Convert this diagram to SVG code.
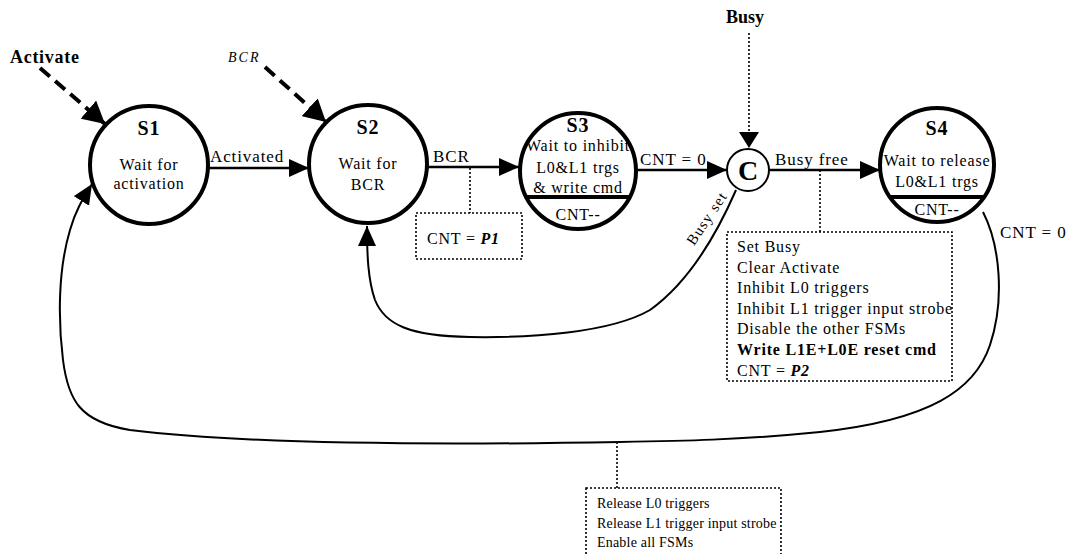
<svg xmlns="http://www.w3.org/2000/svg" width="1068" height="554" viewBox="0 0 1068 554">
<style>
text{font-family:"Liberation Serif","Times New Roman",serif;fill:#000}
.st{stroke:#000;stroke-width:4;fill:#fff}
.t{font-size:16px;letter-spacing:0.8px;text-anchor:middle}
.n{font-size:20px;font-weight:bold;text-anchor:middle;letter-spacing:1px}
.lb{font-size:17px;letter-spacing:0.9px}
.e{fill:none;stroke:#000;stroke-width:2.5}
.c{fill:none;stroke:#000;stroke-width:2}
.d{fill:none;stroke:#000;stroke-width:4;stroke-dasharray:13 7}
.dot{fill:none;stroke:#000;stroke-width:1.6;stroke-dasharray:2 2}
.bx{font-size:16px;letter-spacing:0.8px}
.bx2{font-size:14px;letter-spacing:0.2px}
.hl{stroke:#000;stroke-width:4}
</style>
<defs>
<marker id="arr" markerUnits="userSpaceOnUse" viewBox="0 0 20 18" refX="20" refY="9" markerWidth="20" markerHeight="18" orient="auto"><path d="M0,0 L20,9 L0,18 z" fill="#000"/></marker>
<marker id="arrB" markerUnits="userSpaceOnUse" viewBox="0 0 22 24" refX="22" refY="12" markerWidth="22" markerHeight="24" orient="auto"><path d="M0,0 L22,12 L0,24 z" fill="#000"/></marker>
<marker id="arrS" markerUnits="userSpaceOnUse" viewBox="0 0 16 20" refX="16" refY="10" markerWidth="16" markerHeight="20" orient="auto"><path d="M0,0 L16,10 L0,20 z" fill="#000"/></marker>
</defs>

<g id="connectors">
<path class="e" d="M208,168 L309,168" marker-end="url(#arr)"/>
<path class="e" d="M427,167 L519,167" marker-end="url(#arr)"/>
<path class="e" d="M637,170 L727,170" marker-end="url(#arr)"/>
<path class="e" d="M769,170 L880,170" marker-end="url(#arr)"/>
<path class="c" d="M736,190 C712,245 685,285 650,310 C610,333 530,338 470,337 C410,336 385,325 375,300 C368,280 367,255 367,226" marker-end="url(#arr)"/>
<path class="c" d="M983,212 C1000,245 1005,300 990,345 C975,390 930,420 820,432 C740,440 680,441 620,442 C450,445 250,445 130,430 C80,422 68,400 63,360 C58,320 58,270 70,230 C75,212 82,200 92,184" marker-end="url(#arr)"/>
<path class="d" d="M40,68 L105,124" marker-end="url(#arrB)"/>
<path class="d" d="M265,67 L326,122" marker-end="url(#arrB)"/>
<path class="dot" d="M749,33 L749,148" marker-end="url(#arrS)"/>
<path class="dot" d="M470,168 L470,213"/>
<path class="dot" d="M820,170 L820,232"/>
<path class="dot" d="M617,442 L617,488"/>
<text class="lb" x="210" y="162">Activated</text>
<text class="lb" x="433" y="162">BCR</text>
<text class="lb" x="640" y="165">CNT = 0</text>
<text class="lb" x="775" y="165">Busy free</text>
<text class="lb" x="1000" y="238">CNT = 0</text>
<text font-size="15" letter-spacing="1.2" text-anchor="middle" transform="translate(711,221) rotate(-56)">Busy set</text>
</g>

<g id="inputs">
<text x="10" y="63" font-size="18" font-weight="bold" letter-spacing="0.7">Activate</text>
<text x="228" y="62" font-size="14" font-style="italic" letter-spacing="2">BCR</text>
<text x="745" y="23" font-size="18" font-weight="bold" text-anchor="middle">Busy</text>
</g>

<g id="S1">
<circle class="st" cx="149" cy="165" r="59"/>
<text class="n" x="149" y="135">S1</text>
<text class="t" x="149" y="170">Wait for</text>
<text class="t" x="149" y="189">activation</text>
</g>

<g id="S2">
<circle class="st" cx="368" cy="164" r="59"/>
<text class="n" x="368" y="134">S2</text>
<text class="t" x="368" y="169">Wait for</text>
<text class="t" x="368" y="190">BCR</text>
</g>

<g id="S3">
<circle class="st" cx="578" cy="171" r="58"/>
<line class="hl" x1="526" y1="197" x2="630" y2="197"/>
<text class="n" x="578" y="132" font-size="19">S3</text>
<text class="t" x="578" y="151">Wait to inhibit</text>
<text class="t" x="578" y="173">L0&amp;L1 trgs</text>
<text class="t" x="578" y="193">&amp; write cmd</text>
<text class="t" x="578" y="220">CNT--</text>
</g>

<g id="C">
<circle cx="748" cy="170" r="21" fill="#fff" stroke="#000" stroke-width="2"/>
<text x="748" y="180" font-size="28" font-weight="bold" text-anchor="middle">C</text>
</g>

<g id="S4">
<circle class="st" cx="937" cy="165" r="57"/>
<line class="hl" x1="890" y1="197" x2="984" y2="197"/>
<text class="n" x="937" y="135">S4</text>
<text class="t" x="937" y="166">Wait to release</text>
<text class="t" x="937" y="187">L0&amp;L1 trgs</text>
<text class="t" x="937" y="215">CNT--</text>
</g>

<g id="boxP1">
<rect class="dot" x="416" y="213" width="106" height="46"/>
<text class="bx" x="427" y="244">CNT = <tspan font-weight="bold" font-style="italic">P1</tspan></text>
</g>

<g id="boxBusy">
<rect class="dot" x="727" y="232" width="225" height="149"/>
<text class="bx" x="737" y="252">Set Busy</text>
<text class="bx" x="737" y="273">Clear Activate</text>
<text class="bx" x="737" y="293">Inhibit L0 triggers</text>
<text class="bx" x="737" y="314">Inhibit L1 trigger input strobe</text>
<text class="bx" x="737" y="334">Disable the other FSMs</text>
<text class="bx" x="737" y="355" font-weight="bold">Write L1E+L0E reset cmd</text>
<text class="bx" x="737" y="376">CNT = <tspan font-weight="bold" font-style="italic">P2</tspan></text>
</g>

<g id="boxRelease">
<rect class="dot" x="586" y="488" width="195" height="70"/>
<text class="bx2" x="597" y="508">Release L0 triggers</text>
<text class="bx2" x="597" y="528">Release L1 trigger input strobe</text>
<text class="bx2" x="597" y="547">Enable all FSMs</text>
</g>
</svg>
